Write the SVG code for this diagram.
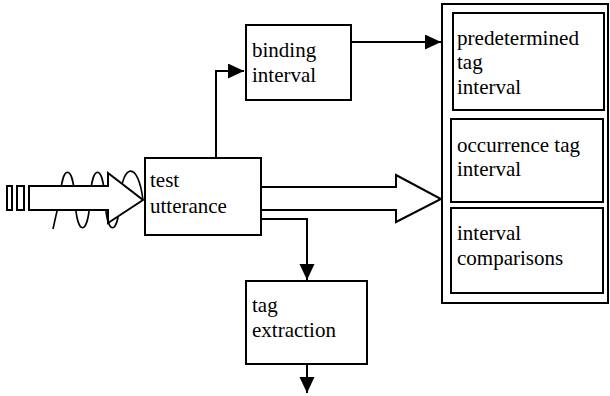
<svg xmlns="http://www.w3.org/2000/svg" width="610" height="396" viewBox="0 0 610 396">
<style>
.box{fill:#fff;stroke:#000;stroke-width:2}
.ln{fill:none;stroke:#000;stroke-width:2}
.wv{fill:none;stroke:#000;stroke-width:1.6}
</style>
<defs>
<marker id="ah" markerUnits="userSpaceOnUse" markerWidth="16" markerHeight="16" refX="16" refY="7.5" orient="auto">
<path d="M0,0 L16,7.5 L0,15 z" fill="#000"/>
</marker>
</defs>
<rect width="610" height="396" fill="#fff"/>
<g id="connectors">
<path class="ln" d="M216,158 V71 H244" marker-end="url(#ah)"/>
<path class="ln" d="M351,42 H441" marker-end="url(#ah)"/>
<path class="ln" d="M262,219 H307 V280" marker-end="url(#ah)"/>
<path class="ln" d="M307,364 V393" marker-end="url(#ah)"/>
<polygon class="box" points="261,187 396,187 396,175 441,199 396,222 396,210 261,210"/>
</g>
<g id="input">
<path class="wv" d="M53,229 Q56,214 60,200 C62,163 73,163 75,200 C77,237 88,237 90,200 C92,163 103,163 105,200 C107,237 118,237 120,200 C122,163 138,160 143,200"/>
<rect class="box" x="7" y="186" width="5" height="24"/>
<rect class="box" x="17" y="186" width="7" height="24"/>
<polygon class="box" points="29,186 108,186 108,173 143,200 108,223 108,210 29,210"/>
</g>
<g font-family="Liberation Serif, Times New Roman, DejaVu Serif, serif" font-size="21" fill="#000">
<g id="test-utterance">
<rect class="box" x="145" y="158" width="116" height="77"/>
<text x="150" y="187">test</text>
<text x="150" y="213">utterance</text>
</g>
<g id="binding-interval">
<rect class="box" x="246" y="25" width="105" height="75"/>
<text x="252" y="57">binding</text>
<text x="252" y="82">interval</text>
</g>
<g id="tag-extraction">
<rect class="box" x="246" y="281" width="121" height="83"/>
<text x="252" y="312">tag</text>
<text x="252" y="337">extraction</text>
</g>
<g id="container">
<rect class="box" x="442" y="4" width="166" height="299"/>
</g>
<g id="predetermined-tag-interval">
<rect class="box" x="453" y="13" width="151" height="97"/>
<text x="457" y="45" textLength="122" lengthAdjust="spacingAndGlyphs">predetermined</text>
<text x="457" y="69">tag</text>
<text x="457" y="94">interval</text>
</g>
<g id="occurrence-tag-interval">
<rect class="box" x="451" y="119" width="152" height="83"/>
<text x="457" y="152">occurrence tag</text>
<text x="457" y="176">interval</text>
</g>
<g id="interval-comparisons">
<rect class="box" x="451" y="208" width="152" height="85"/>
<text x="457" y="240">interval</text>
<text x="457" y="265">comparisons</text>
</g>
</g>
</svg>
